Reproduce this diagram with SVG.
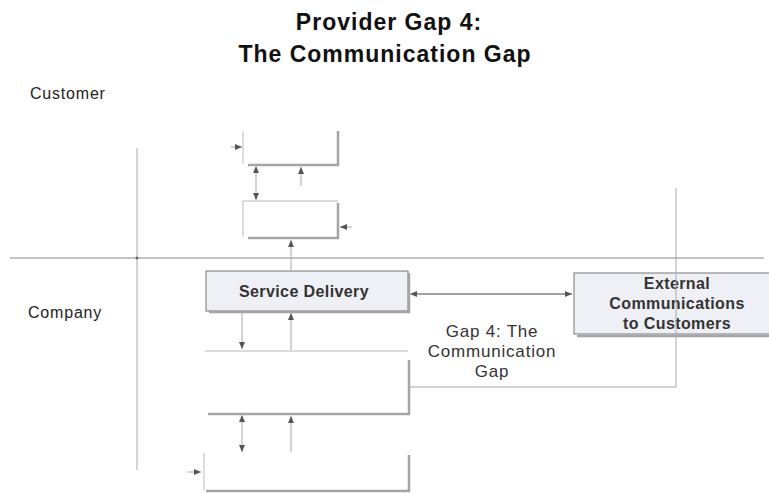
<svg xmlns="http://www.w3.org/2000/svg" width="769" height="493" viewBox="0 0 769 493">
<style>
.title{font-family:"Liberation Sans",Arial,sans-serif;font-weight:bold;font-size:23px;letter-spacing:1px;fill:#111;text-anchor:middle}
.lbl{font-family:"Liberation Sans",Arial,sans-serif;font-size:16px;letter-spacing:0.8px;fill:#222}
.bold{font-family:"Liberation Sans",Arial,sans-serif;font-weight:bold;font-size:16px;letter-spacing:0.4px;fill:#333;text-anchor:middle}
.gap{font-family:"Liberation Sans",Arial,sans-serif;font-size:17px;letter-spacing:0.8px;fill:#333;text-anchor:middle}
.ln{stroke:#aaa;stroke-width:1;fill:none}
.axis{stroke:#888;stroke-width:1;fill:none}
.edge{stroke:#bbb;stroke-width:1;fill:none}
.sh{stroke:#a5a5a5;stroke-width:2.5;fill:none}
.ar{stroke:#aaa;stroke-width:1;fill:none}
</style>
<defs>
<marker id="ah" markerWidth="8" markerHeight="8" refX="7" refY="4" orient="auto" markerUnits="userSpaceOnUse">
<path d="M0,1 L7,4 L0,7 Z" fill="#555"/>
</marker>
<marker id="ahs" markerWidth="8" markerHeight="8" refX="1" refY="4" orient="auto" markerUnits="userSpaceOnUse">
<path d="M7,1 L0,4 L7,7 Z" fill="#555"/>
</marker>
</defs>
<rect width="769" height="493" fill="#fff"/>
<text class="title" x="389" y="30">Provider Gap 4:</text>
<text class="title" x="385" y="62">The Communication Gap</text>
<text class="lbl" x="30" y="99">Customer</text>
<text class="lbl" x="28" y="318">Company</text>
<g id="axes">
<line class="axis" x1="10" y1="258" x2="764" y2="258"/>
<line class="ln" x1="137" y1="148" x2="137" y2="470"/>
<circle cx="137" cy="258" r="1.5" fill="#666"/>
</g>
<g id="expected">
<line class="edge" x1="243" y1="131" x2="243" y2="164"/>
<path class="sh" d="M338,131 V165 H248"/>
</g>
<g id="perceived">
<line class="edge" x1="243" y1="201" x2="338" y2="201"/>
<line class="edge" x1="243" y1="201" x2="243" y2="237"/>
<path class="sh" d="M338,203 V238 H248"/>
</g>
<g id="service-delivery">
<rect x="206" y="271" width="202" height="40" fill="#eef0f5" stroke="#777" stroke-width="1"/>
<path class="sh" d="M409,273 V312 H209"/>
<text class="bold" x="304" y="297">Service Delivery</text>
</g>
<g id="standards">
<line class="edge" x1="205" y1="351" x2="408" y2="351"/>
<path class="sh" d="M409,360 V414 H208"/>
</g>
<g id="perceptions">
<line class="edge" x1="204" y1="453" x2="204" y2="490"/>
<path class="sh" d="M409,455 V491 H206"/>
</g>
<g id="external">
<rect x="574" y="273" width="200" height="61" fill="#eef0f5" stroke="#777" stroke-width="1"/>
<path class="sh" d="M577,336 H769"/>
<text class="bold" x="677" y="289">External</text>
<text class="bold" x="677" y="309">Communications</text>
<text class="bold" x="677" y="329">to Customers</text>
</g>
<g id="connectors">
<line class="ar" x1="231" y1="147" x2="242" y2="147" marker-end="url(#ah)"/>
<line class="ar" x1="256" y1="167" x2="256" y2="200" marker-start="url(#ahs)" marker-end="url(#ah)"/>
<line class="ar" x1="301" y1="186" x2="301" y2="167" marker-end="url(#ah)"/>
<line class="ar" x1="352" y1="227" x2="340" y2="227" marker-end="url(#ah)"/>
<line class="ar" x1="291" y1="271" x2="291" y2="240" marker-end="url(#ah)"/>
<line class="ar" x1="242" y1="313" x2="242" y2="349" marker-end="url(#ah)"/>
<line class="ar" x1="291" y1="350" x2="291" y2="313" marker-end="url(#ah)"/>
<line class="ar" x1="242" y1="416" x2="242" y2="452" marker-start="url(#ahs)" marker-end="url(#ah)"/>
<line class="ar" x1="291" y1="452" x2="291" y2="416" marker-end="url(#ah)"/>
<line class="ar" x1="187" y1="472" x2="201" y2="472" marker-end="url(#ah)"/>
<line x1="411" y1="294" x2="572" y2="294" stroke="#444" stroke-width="1" marker-start="url(#ahs)" marker-end="url(#ah)"/>
<path class="ln" d="M676,188 V387 H410"/>
</g>
<text class="gap" x="492" y="337">Gap 4: The</text>
<text class="gap" x="492" y="357">Communication</text>
<text class="gap" x="492" y="377">Gap</text>
</svg>
